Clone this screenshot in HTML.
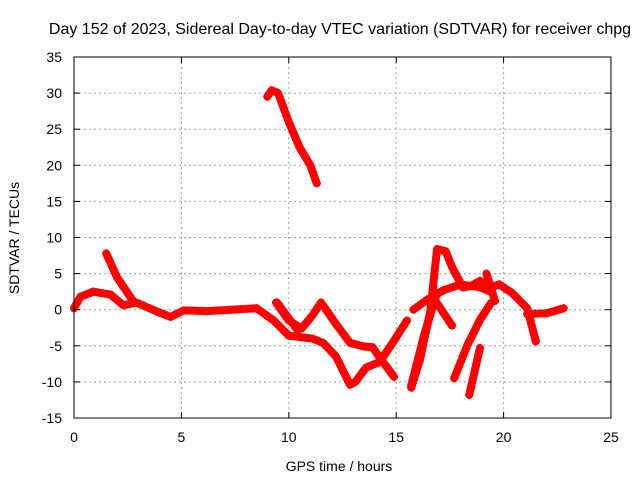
<!DOCTYPE html>
<html><head><meta charset="utf-8"><style>
html,body{margin:0;padding:0;background:#fff}
svg{display:block;font-family:"Liberation Sans",sans-serif}
</style></head><body>
<svg id="chart" width="640" height="480">
<text x="340" y="34" text-anchor="middle" font-size="16">Day 152 of 2023, Sidereal Day-to-day VTEC variation (SDTVAR) for receiver chpg</text>
<text x="339" y="471" text-anchor="middle" font-size="14">GPS time / hours</text>
<text transform="translate(19,238) rotate(-90)" text-anchor="middle" font-size="14">SDTVAR / TECUs</text>
<g id="grid"></g><g id="series"></g><g id="axes"></g>
</svg>
<script>
const xTicks=[0,5,10,15,20,25];
const yTicks=[35,30,25,20,15,10,5,0,-5,-10,-15];
const segTop=[[9.0,29.5],[9.2,30.4],[9.5,30],[10,26],[10.5,22.5],[11,20],[11.3,17.5]];
const segMain=[[0,0.2],[0.3,1.8],[0.9,2.5],[1.7,2.1],[2.3,0.6],[2.9,1.0],[3.9,-0.3],[4.5,-1.0],[5.1,-0.1],[6.2,-0.2],[8.5,0.2],[9.3,-1.5],[10,-3.6],[11.1,-4],[11.6,-4.6],[12.2,-6.5],[12.85,-10.4],[13.1,-10],[13.6,-8],[14.2,-7.3],[14.7,-5.2],[15.5,-1.5]];
const segDecay=[[1.5,7.8],[2.0,4.5],[2.5,2.3],[2.8,1.0]];
const segUpper=[[9.4,1],[10,-1.5],[10.6,-2.6],[11.1,-0.8],[11.5,1],[12.2,-2],[12.85,-4.6],[13.5,-5.1],[13.9,-5.2],[14.2,-6.5],[14.9,-9.3]];
const segShort=[[9.45,1],[10.4,-2.8]];
const segRise=[[15.7,-10.8],[16.1,-7],[16.6,0],[16.9,8.4],[17.3,8.1],[17.6,5.9],[18.1,3.1],[18.5,3.3],[18.9,4],[19.3,3],[19.8,3.5],[20.4,2.3],[21.1,0.2],[21.5,-4.4]];
const segLower=[[15.8,0],[16.4,1.3],[17.2,2.7],[18.0,3.5],[18.9,3.1],[19.4,2.5]];
const segTail=[[21.1,-0.6],[22,-0.5],[22.8,0.2]];
const segRise2=[[15.7,-10.5],[16.3,-3.5],[16.9,2.3]];
const segFall=[[16.9,0.9],[17.6,-2.2]];
const segA=[[17.7,-9.5],[18.3,-5],[18.9,-1.4],[19.4,0.9]];
const segB=[[18.4,-11.8],[18.9,-5.3]];
const segC=[[19.2,5],[19.6,1.2]];
const segments=[segTop,segMain,segDecay,segUpper,segShort,segRise,segLower,segTail,segRise2,segFall,segA,segB,segC];
const X0=74,X1=611,Y0=418,Y1=57,XMIN=0,XMAX=25,YMIN=-15,YMAX=35;
const sx=v=>X0+(v-XMIN)/(XMAX-XMIN)*(X1-X0);
const sy=v=>Y0-(v-YMIN)/(YMAX-YMIN)*(Y0-Y1);
const NS="http://www.w3.org/2000/svg";
function mk(t,a,p){const e=document.createElementNS(NS,t);for(const k in a)e.setAttribute(k,a[k]);p.appendChild(e);return e;}
const grid=document.getElementById('grid'),axes=document.getElementById('axes'),ser=document.getElementById('series');
xTicks.forEach(t=>{
 if(t>0&&t<25){const l=mk('line',{x1:sx(t),x2:sx(t),y1:Y1,y2:Y0,stroke:'#a0a0a0','stroke-dasharray':'2,3'},grid);
 
 }
 const tx=mk('text',{x:sx(t),y:Y0+24,'text-anchor':'middle','font-size':'14'},axes);tx.textContent=t;
 
 
 mk('line',{x1:sx(t),x2:sx(t),y1:Y0,y2:Y0-6,stroke:'#000'},axes);
 mk('line',{x1:sx(t),x2:sx(t),y1:Y1,y2:Y1+6,stroke:'#000'},axes);
});
yTicks.forEach(t=>{
 if(t<35&&t>-15){const l=mk('line',{x1:X0,x2:X1,y1:sy(t),y2:sy(t),stroke:'#a0a0a0','stroke-dasharray':'2,3'},grid);
 
 }
 const tx=mk('text',{x:X0-12,y:sy(t)+5,'text-anchor':'end','font-size':'14'},axes);tx.textContent=t;
 
 
 mk('line',{x1:X0,x2:X0+6,y1:sy(t),y2:sy(t),stroke:'#000'},axes);
 mk('line',{x1:X1,x2:X1-6,y1:sy(t),y2:sy(t),stroke:'#000'},axes);
});
const fr=mk('rect',{x:X0,y:Y1,width:X1-X0,height:Y0-Y1,fill:'none',stroke:'#000'},axes);


segments.forEach(seg=>{
 const pl=mk('polyline',{points:seg.map(p=>sx(p[0])+','+sy(p[1])).join(' '),fill:'none',stroke:'#ff0000','stroke-width':'8','stroke-linejoin':'round','stroke-linecap':'round'},ser);
 
 
 seg.forEach(p=>{
  const m=mk('path',{d:`M${sx(p[0])-4},${sy(p[1])}h8M${sx(p[0])},${sy(p[1])-4}v8`,stroke:'#ff0000','stroke-width':'1.5'},ser);
  
  
 });
});
</script>
</body></html>
